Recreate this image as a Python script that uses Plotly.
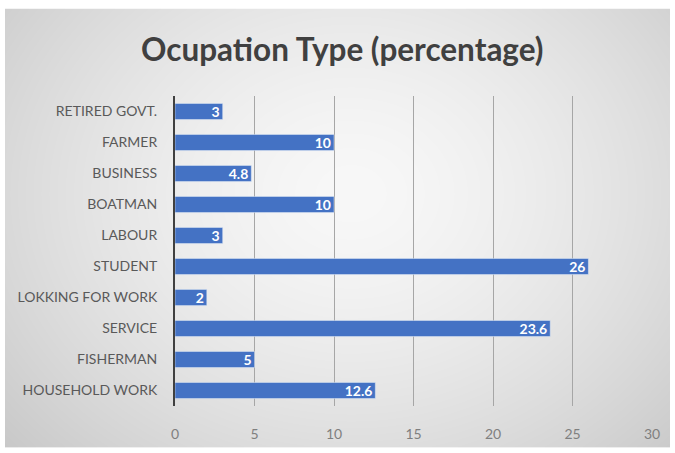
import plotly.graph_objects as go
import numpy as np
import zlib, struct, base64

categories = ["HOUSEHOLD WORK", "FISHERMAN", "SERVICE", "LOKKING FOR WORK", "STUDENT",
              "LABOUR", "BOATMAN", "BUSINESS", "FARMER", "RETIRED GOVT."]
values = [12.6, 5, 23.6, 2, 26, 3, 10, 4.8, 10, 3]
labels = ["12.6", "5", "23.6", "2", "26", "3", "10", "4.8", "10", "3"]
xticks = [0, 5, 10, 15, 20, 25, 30]

W, H = 675, 453
L, R, T, B = 175, 652, 95.5, 406.5

# radial grey gradient background image
def make_png(w, h):
    yy, xx = np.mgrid[0:h, 0:w]
    cx, cy = w * 0.52, h * 0.42
    d = np.sqrt(((xx - cx) / (w * 0.6)) ** 2 + ((yy - cy) / (h * 0.75)) ** 2)
    v = 248 - 38 * np.clip(d, 0, 1.2) ** 1.5
    v = np.clip(v, 0, 255).astype(np.uint8)
    raw = b"".join(b"\x00" + bytes(np.stack([v[r]] * 3, axis=-1).tobytes()) for r in range(h))
    def chunk(t, d):
        c = struct.pack(">I", len(d)) + t + d
        return c + struct.pack(">I", zlib.crc32(t + d) & 0xffffffff)
    png = b"\x89PNG\r\n\x1a\n" + chunk(b"IHDR", struct.pack(">IIBBBBB", w, h, 8, 2, 0, 0, 0))
    png += chunk(b"IDAT", zlib.compress(raw, 9)) + chunk(b"IEND", b"")
    return "data:image/png;base64," + base64.b64encode(png).decode()

bx0, by0, bx1, by1 = 5, 8, 670, 448
img = make_png(bx1 - bx0, by1 - by0)

fig = go.Figure(go.Bar(
    x=values, y=categories, orientation="h",
    marker=dict(color="#4472C4"),
    text=labels, textposition="inside", insidetextanchor="end",
    textangle=0, constraintext="none",
    textfont=dict(color="white", size=14, family="Lato", weight="bold"),
    cliponaxis=False,
))

fig.add_layout_image(dict(
    source=img, xref="paper", yref="paper",
    x=(bx0 - L) / (R - L), y=(B - by0) / (B - T),
    sizex=(bx1 - bx0) / (R - L), sizey=(by1 - by0) / (B - T),
    sizing="stretch", xanchor="left", yanchor="top", layer="below",
))

fig.update_layout(
    width=W, height=H,
    margin=dict(l=L, r=W - R, t=T, b=H - B, pad=0),
    paper_bgcolor="white", plot_bgcolor="rgba(0,0,0,0)",
    bargap=0.48, showlegend=False,
    title=dict(text="Ocupation Type (percentage)", x=0.507, xanchor="center",
               y=1 - 50 / H, yanchor="middle",
               font=dict(family="Lato", size=31.5, color="#404040", weight="bold")),
    xaxis=dict(range=[0, 30], tickvals=xticks, showgrid=True, gridcolor="#a6a6a6", gridwidth=1,
               zeroline=False, showline=False, ticks="",
               tickfont=dict(family="Lato", size=14, color="#7f7f7f"), ticklabelstandoff=18),
    yaxis=dict(categoryorder="array", categoryarray=categories, showgrid=False,
               showline=True, linecolor="#404040", linewidth=2, ticks="",
               tickfont=dict(family="Lato", size=14, color="#595959"), ticklabelstandoff=13),
    font=dict(family="Lato"),
)

fig.write_html("out.html")
